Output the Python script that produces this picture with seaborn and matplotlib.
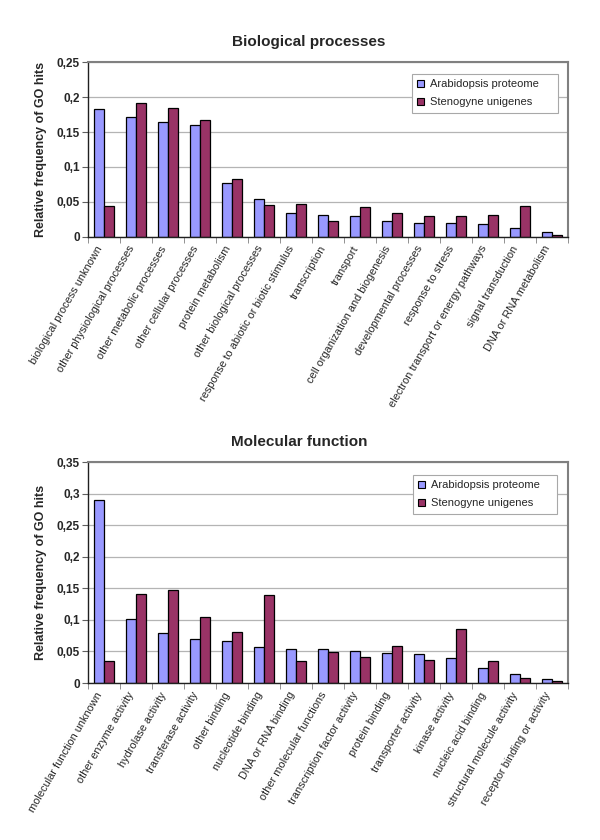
import matplotlib
matplotlib.use("Agg")
import matplotlib.pyplot as plt
import matplotlib.transforms as mtransforms
import seaborn as sns
import pandas as pd
from matplotlib.patches import Rectangle
from matplotlib.ticker import FuncFormatter, FixedLocator, MultipleLocator

sns.set_style("white")
plt.rcParams['font.family'] = ['Liberation Sans', 'DejaVu Sans']

series_names = ["Arabidopsis proteome", "Stenogyne unigenes"]
colors = ["#9999FF", "#993366"]

bio_categories = [
    "biological process unknown", "other physiological processes",
    "other metabolic processes", "other cellular processes",
    "protein metabolism", "other biological processes",
    "response to abiotic or biotic stimulus", "transcription", "transport",
    "cell organization and biogenesis", "developmental processes",
    "response to stress", "electron transport or energy pathways",
    "signal transduction", "DNA or RNA metabolism",
]
bio_arabidopsis = [0.183, 0.171, 0.164, 0.160, 0.077, 0.054, 0.034, 0.031,
                   0.029, 0.022, 0.019, 0.019, 0.018, 0.013, 0.007]
bio_stenogyne = [0.044, 0.192, 0.185, 0.168, 0.083, 0.046, 0.047, 0.022,
                 0.042, 0.034, 0.030, 0.029, 0.031, 0.044, 0.003]

mf_categories = [
    "molecular function unknown", "other enzyme activity", "hydrolase activity",
    "transferase activity", "other binding", "nucleotide binding",
    "DNA or RNA binding", "other molecular functions",
    "transcription factor activity", "protein binding", "transporter activity",
    "kinase activity", "nucleic acid binding", "structural molecule activity",
    "receptor binding or activity",
]
mf_arabidopsis = [0.290, 0.101, 0.079, 0.069, 0.066, 0.057, 0.054, 0.054,
                  0.050, 0.047, 0.046, 0.039, 0.024, 0.015, 0.007]
mf_stenogyne = [0.035, 0.141, 0.147, 0.105, 0.081, 0.139, 0.035, 0.049,
                0.042, 0.058, 0.037, 0.085, 0.035, 0.008, 0.003]


def fmt(v, pos):
    if abs(v) < 1e-9:
        return "0"
    s = ("%.2f" % v).rstrip("0").rstrip(".")
    return s.replace(".", ",")


def draw(fig, ax, title, title_x, cats, a, b, ymax, legbox):
    df = pd.DataFrame({
        "category": cats * 2,
        "value": a + b,
        "series": [series_names[0]] * len(cats) + [series_names[1]] * len(cats),
    })
    sns.barplot(data=df, x="category", y="value", hue="series",
                palette=colors, width=0.6, edgecolor="black", linewidth=0.9,
                ax=ax, errorbar=None, saturation=1)
    ax.set_xlim(-0.5, len(cats) - 0.5)
    ax.set_ylim(0, ymax)
    ax.yaxis.set_major_locator(MultipleLocator(0.05))
    ax.yaxis.set_major_formatter(FuncFormatter(fmt))
    ax.yaxis.grid(True, color="#b4b4b4", linewidth=0.9)
    ax.set_axisbelow(True)
    ax.set_xlabel("")
    ax.set_ylabel("Relative frequency of GO hits", fontsize=9,
                  fontweight="bold", labelpad=7)
    ax.set_title(title, fontsize=11, fontweight="bold", pad=12, x=title_x)
    ax.set_xticks(range(len(cats)))
    ax.set_xticklabels(cats, rotation=60, ha="right", va="center",
                       rotation_mode="anchor", fontsize=7.9)
    ax.tick_params(axis="x", which="major", length=0, pad=7)
    ax.xaxis.set_minor_locator(FixedLocator([i + 0.5 for i in range(-1, len(cats))]))
    ax.tick_params(axis="x", which="minor", length=4, color="#808080",
                   direction="out", bottom=True)
    ax.tick_params(axis="y", length=4, direction="out", left=True,
                   color="#606060", labelsize=8.5, pad=2)
    offset = mtransforms.ScaledTranslation(-4 / 100, 0, fig.dpi_scale_trans)
    for tick in ax.xaxis.get_major_ticks():
        tick.label1.set_transform(tick.label1.get_transform() + offset)
    for lab in ax.get_yticklabels():
        lab.set_fontweight("bold")
    for side in ["left", "bottom"]:
        ax.spines[side].set_color("#202020")
        ax.spines[side].set_linewidth(1.0)
    for side in ["top", "right"]:
        ax.spines[side].set_color("#808080")
        ax.spines[side].set_linewidth(1.5)
        ax.spines[side].set_visible(True)
    x0, y0, x1, y1 = legbox
    ax.add_patch(Rectangle((x0, y0), x1 - x0, y1 - y0, transform=ax.transAxes,
                           facecolor="white", edgecolor="#a8a8a8",
                           linewidth=0.8, zorder=4))
    leg = ax.legend(loc="upper left", bbox_to_anchor=(x0, y1),
                    borderaxespad=0, fontsize=8, frameon=False,
                    handlelength=0.65, handleheight=0.65,
                    handletextpad=0.5, borderpad=0.45, labelspacing=0.72)
    leg.set_zorder(5)
    for h in leg.legend_handles:
        h.set_edgecolor("black")
        h.set_linewidth(0.8)


fig = plt.figure(figsize=(6, 8.4), dpi=100)
ax1 = fig.add_axes([88 / 600, 1 - 236.7 / 840, 480 / 600, 174.4 / 840])
ax2 = fig.add_axes([88 / 600, 1 - 683 / 840, 480 / 600, 220.7 / 840])

draw(fig, ax1, "Biological processes", 0.46, bio_categories, bio_arabidopsis,
     bio_stenogyne, 0.25, (0.675, 0.709, 0.979, 0.931))
draw(fig, ax2, "Molecular function", 0.44, mf_categories, mf_arabidopsis,
     mf_stenogyne, 0.35, (0.677, 0.766, 0.977, 0.941))

fig.savefig("out.png", dpi=100, facecolor="white")
